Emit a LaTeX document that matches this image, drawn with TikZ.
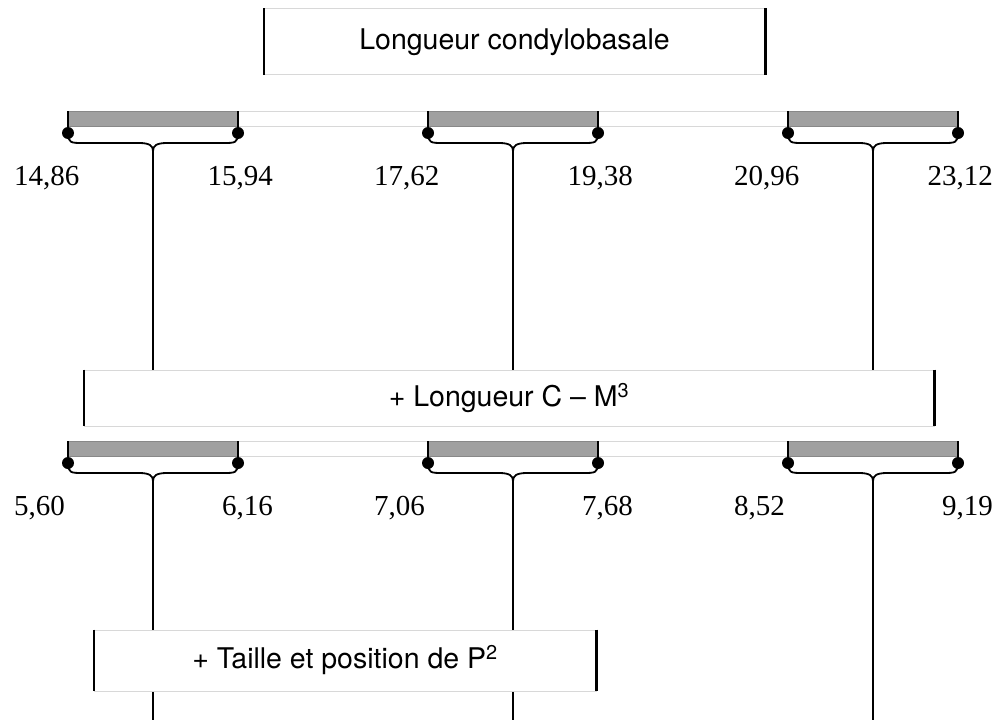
\documentclass[tikz,border=0pt]{standalone}
\usepackage{fontspec}
\setmainfont{Liberation Serif}
\newfontfamily\hv{TeX Gyre Heros}
\definecolor{boxgray}{HTML}{D8D8D8}
\definecolor{bargray}{HTML}{A0A0A0}
\definecolor{bardark}{HTML}{888888}
\begin{document}
\begin{tikzpicture}[x=1pt,y=-1pt,
  cbox/.style={fill=white, draw=boxgray, line width=0.8pt, inner sep=0pt, font=\hv\fontsize{28.5}{34}\selectfont},
  cside/.style={line width=2.2pt, black},
  strip/.style={fill=white, draw=boxgray, line width=0.8pt},
  bar/.style={fill=bargray, draw=bardark, line width=0.5pt},
  tick/.style={line width=1.6pt},
  brace/.style={line width=1.8pt, line join=round},
  stem/.style={line width=1.7pt},
  dotm/.style={circle, fill=black, inner sep=0pt, minimum size=12pt},
  num/.style={font=\fontsize{29}{35}\selectfont, inner sep=0pt}]
\useasboundingbox (0,0) rectangle (1002,720);
\node[cbox, minimum width=501pt, minimum height=66pt] (box1) at (514.5,41.8) {Longueur condylobasale};
\draw[cside] (box1.north west) -- (box1.south west);
\draw[cside] (box1.north east) -- (box1.south east);
% strips
\foreach \yt in {111,441} {
  \draw[strip] (68,\yt) rectangle (958,\yt+15);
}
\foreach \r/\g/\xl/\yt/\a/\b in {1/1/68/111/{14,86}/{15,94},1/2/428/111/{17,62}/{19,38},1/3/788/111/{20,96}/{23,12},
                                  2/1/68/441/{5,60}/{6,16},2/2/428/441/{7,06}/{7,68},2/3/788/441/{8,52}/{9,19}} {
  \pgfmathsetmacro\xr{\xl+170}
  \pgfmathsetmacro\xc{\xl+85}
  \pgfmathsetmacro\yd{\yt+22}
  \pgfmathsetmacro\yh{\yt+32}
  \pgfmathsetmacro\yc{\yt+40}
  \draw[bar] (\xl,\yt) rectangle (\xr,\yt+15);
  \coordinate (tl\r\g) at (\xl,\yt);
  \coordinate (tr\r\g) at (\xr,\yt);
  \node[dotm] (dl\r\g) at (\xl,\yd) {};
  \node[dotm] (dr\r\g) at (\xr,\yd) {};
  \draw[tick] (tl\r\g) -- (dl\r\g.center);
  \draw[tick] (tr\r\g) -- (dr\r\g.center);
  \coordinate (c\r\g) at (\xc,\yc);
  \draw[brace] (dl\r\g.center) .. controls (\xl,\yh) and (\xl+3,\yh) .. (\xl+15,\yh) -- (\xc-14,\yh)
     .. controls (\xc-3,\yh) and (\xc,\yh+3) .. (c\r\g)
     .. controls (\xc,\yh+3) and (\xc+3,\yh) .. (\xc+14,\yh) -- (\xr-15,\yh)
     .. controls (\xr-3,\yh) and (\xr,\yh) .. (dr\r\g.center);
  \node[num, anchor=base west] (la\r\g) at (\xl-54,\yd+52) {\a};
  \node[num, anchor=base east] (lb\r\g) at (\xr+35,\yd+52) {\b};
}
\node[cbox, minimum width=850pt, minimum height=56pt] (box2) at (509,398) {+ Longueur C – M\textsuperscript{3}};
\foreach \g in {1,2,3} {
  \draw[stem] (c1\g) -- (c1\g |- box2.north);
  \coordinate (e\g) at (c2\g |- 0,720);
  \draw[stem] (c2\g) -- (e\g);
}
\draw[cside] (box2.north west) -- (box2.south west);
\draw[cside] (box2.north east) -- (box2.south east);
\node[cbox, minimum width=502pt, minimum height=61pt] (box3) at (345,660.5) {+ Taille et position de P\textsuperscript{2}};
\draw[cside] (box3.north west) -- (box3.south west);
\draw[cside] (box3.north east) -- (box3.south east);
\end{tikzpicture}
\end{document}
